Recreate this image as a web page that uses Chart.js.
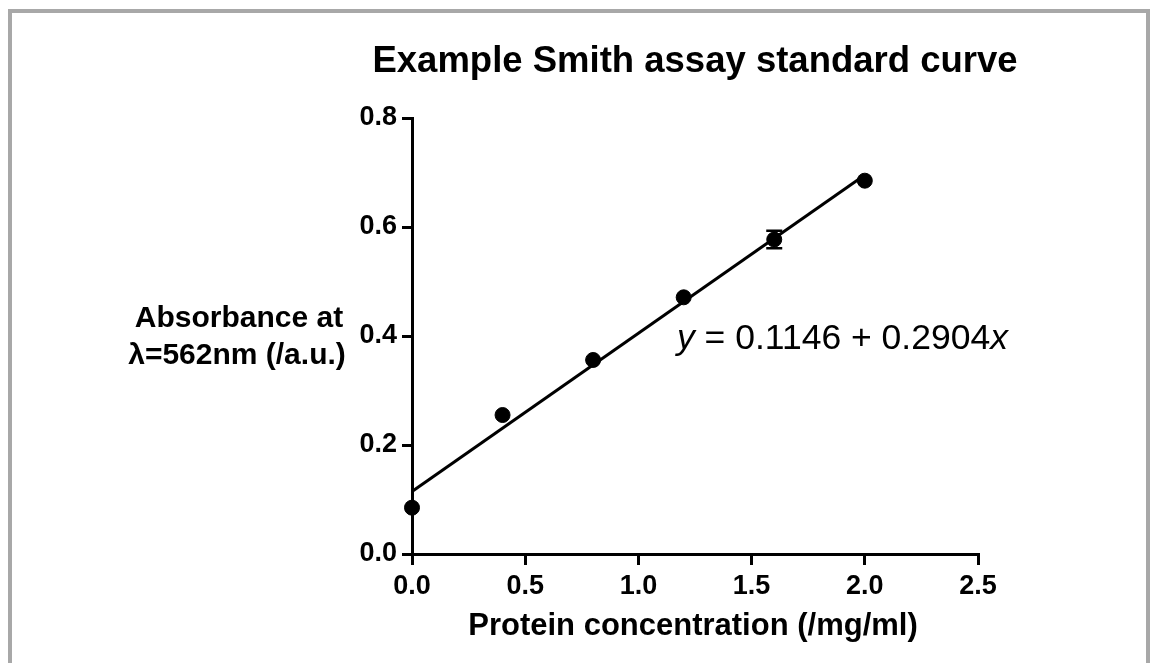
<!DOCTYPE html>
<html>
<head>
<meta charset="utf-8">
<title>Smith assay standard curve</title>
<script src="https://cdn.jsdelivr.net/npm/chart.js@4"></script>
<style>
    html, body { margin: 0; padding: 0; background: #fff; overflow: hidden; }
    #frame {
        position: absolute; left: 8px; top: 9px;
        width: 1134px; height: 700px;
        border: 4px solid #a8a8a8;
    }
    #wrap { position: absolute; left: 0; top: 0; width: 1151px; height: 663px; }
</style>
</head>
<body>
<div id="frame"></div>
<div id="wrap"><canvas id="curveChart"></canvas></div>
<script>
// Standard curve data (protein conc. in mg/ml, absorbance at 562 nm)
const concentration = [0, 0.4, 0.8, 1.2, 1.6, 2.0];
const absorbance = [0.085, 0.255, 0.356, 0.471, 0.577, 0.685];
const absorbanceErr = [0, 0, 0, 0, 0.016, 0];

// Fitted line y = 0.1146 + 0.2904x, drawn between its end points
const fitX = [0, 2.0];
const fitY = [0.1146, 0.6954];

const xTickValues = [0, 0.5, 1.0, 1.5, 2.0, 2.5];
const yTickValues = [0, 0.2, 0.4, 0.6, 0.8];

const titleText = 'Example Smith assay standard curve';
const xTitleText = 'Protein concentration (/mg/ml)';
const yTitleLines = ['Absorbance at', '\u03bb=562nm (/a.u.)'];

const FONT = '"Liberation Sans", Arial, sans-serif';

document.addEventListener('DOMContentLoaded', function () {
    const canvas = document.getElementById('curveChart');

    // error bars drawn through the chart's own scales
    const errorBars = {
        id: 'errorBars',
        afterDatasetsDraw(chart) {
            const ctx = chart.ctx;
            const xs = chart.scales.x, ys = chart.scales.y;
            ctx.save();
            ctx.strokeStyle = '#000';
            ctx.lineWidth = 2.5;
            concentration.forEach((c, i) => {
                const err = absorbanceErr[i];
                if (!err) return;
                const px = xs.getPixelForValue(c);
                const top = ys.getPixelForValue(absorbance[i] + err);
                const bot = ys.getPixelForValue(absorbance[i] - err);
                ctx.beginPath();
                ctx.moveTo(px, top); ctx.lineTo(px, bot);
                ctx.moveTo(px - 8, top); ctx.lineTo(px + 8, top);
                ctx.moveTo(px - 8, bot); ctx.lineTo(px + 8, bot);
                ctx.stroke();
            });
            ctx.restore();
        }
    };

    // title, axis titles and the fit equation
    const labels = {
        id: 'labels',
        afterDraw(chart) {
            const ctx = chart.ctx;
            const area = chart.chartArea;
            const midX = (area.left + area.right) / 2;
            ctx.save();
            ctx.fillStyle = '#000';
            ctx.textBaseline = 'alphabetic';
            ctx.textAlign = 'center';

            ctx.font = 'bold 36.5px ' + FONT;
            ctx.fillText(titleText, midX, 72);

            ctx.font = 'bold 31px ' + FONT;
            ctx.fillText(xTitleText, midX - 2, 635);
            ctx.font = 'bold 30px ' + FONT;
            ctx.fillText(yTitleLines[0], 239, 327);
            ctx.fillText(yTitleLines[1], 237, 364);

            // equation: y and x in italics
            ctx.textAlign = 'left';
            let x = 677;
            const parts = [
                ['italic', 'y'],
                ['normal', ' = 0.1146 + 0.2904'],
                ['italic', 'x']
            ];
            parts.forEach(p => {
                ctx.font = p[0] + ' 35.5px ' + FONT;
                ctx.fillText(p[1], x, 349);
                x += ctx.measureText(p[1]).width;
            });
            ctx.restore();
        }
    };

    new Chart(canvas, {
        type: 'scatter',
        data: {
            datasets: [
                {
                    label: 'Standards',
                    data: concentration.map((c, i) => ({ x: c, y: absorbance[i] })),
                    backgroundColor: '#000',
                    borderColor: '#000',
                    pointRadius: 7.5,
                    pointHoverRadius: 7.5,
                    showLine: false,
                    clip: false
                },
                {
                    label: 'Fit',
                    data: fitX.map((c, i) => ({ x: c, y: fitY[i] })),
                    borderColor: '#000',
                    borderWidth: 3,
                    pointRadius: 0,
                    showLine: true,
                    clip: false
                }
            ]
        },
        options: {
            responsive: true,
            maintainAspectRatio: false,
            animation: false,
            layout: {
                padding: { left: 0, top: 118, right: 173, bottom: 0 }
            },
            plugins: {
                legend: { display: false },
                tooltip: { enabled: false },
                title: { display: false }
            },
            scales: {
                x: {
                    type: 'linear',
                    min: 0,
                    max: 2.5,
                    afterFit: scale => { scale.height = 109; },
                    afterBuildTicks: scale => {
                        scale.ticks = xTickValues.map(v => ({ value: v }));
                    },
                    grid: {
                        drawOnChartArea: false,
                        drawTicks: true,
                        tickLength: 11,
                        lineWidth: 3,
                        color: '#000'
                    },
                    border: { display: true, width: 3, color: '#000' },
                    ticks: {
                        color: '#000',
                        padding: 5,
                        maxRotation: 0,
                        autoSkip: false,
                        font: { family: FONT, size: 27, weight: 'bold' },
                        callback: v => Number(v).toFixed(1)
                    }
                },
                y: {
                    type: 'linear',
                    min: 0,
                    max: 0.8,
                    afterFit: scale => { scale.width = 412; },
                    afterBuildTicks: scale => {
                        scale.ticks = yTickValues.map(v => ({ value: v }));
                    },
                    grid: {
                        drawOnChartArea: false,
                        drawTicks: true,
                        tickLength: 10,
                        lineWidth: 3,
                        color: '#000'
                    },
                    border: { display: true, width: 3, color: '#000' },
                    ticks: {
                        color: '#000',
                        padding: 5,
                        font: { family: FONT, size: 27, weight: 'bold' },
                        callback: v => Number(v).toFixed(1)
                    }
                }
            }
        },
        plugins: [errorBars, labels]
    });
});
</script>
</body>
</html>
